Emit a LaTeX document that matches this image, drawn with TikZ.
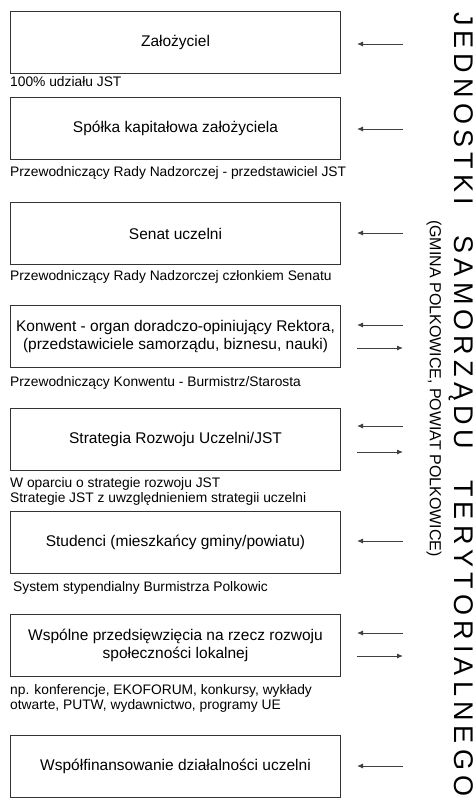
\documentclass[tikz,border=0pt]{standalone}
\usepackage{fontspec}
\setmainfont{Liberation Sans}
\usetikzlibrary{arrows.meta}
\definecolor{boxgray}{HTML}{333333}
\definecolor{arrgray}{HTML}{404040}
\newcommand\wgap{\hskip 0pt plus 6fill\relax}
\tikzset{
  box/.style={draw=boxgray, line width=1pt, minimum width=330pt, minimum height=62pt,
    inner sep=0pt, align=center, anchor=north west, font=\fontsize{15.5}{17.5}\selectfont},
  lab/.style={anchor=north west, inner sep=0pt, align=left, font=\fontsize{13.8}{15}\selectfont},
  arr/.style={line width=0.9pt, draw=arrgray, -{Latex[length=6pt,width=5pt]}},
}
\begin{document}
\begin{tikzpicture}[x=1pt,y=-1pt]
\useasboundingbox (0,0) rectangle (476,801);
% boxes
\node[box] (b1) at (10,11)  {Założyciel};
\node[box] (b2) at (10,97)  {Spółka kapitałowa założyciela};
\node[box] (b3) at (10,202) {Senat uczelni};
\node[box] (b4) at (10,305) {Konwent - organ doradczo-opiniujący Rektora,\\(przedstawiciele samorządu, biznesu, nauki)};
\node[box] (b5) at (10,408) {Strategia Rozwoju Uczelni/JST};
\node[box] (b6) at (10,511) {Studenci (mieszkańcy gminy/powiatu)};
\node[box] (b7) at (10,614) {Wspólne przedsięwzięcia na rzecz rozwoju\\społeczności lokalnej};
\node[box] (b8) at (10,735) {Współfinansowanie działalności uczelni};
% labels
\node[lab] (l1) at (10,76)  {100\% udziału JST};
\node[lab] (l2) at (10,166) {Przewodniczący Rady Nadzorczej - przedstawiciel JST};
\node[lab] (l3) at (10,270) {Przewodniczący Rady Nadzorczej członkiem Senatu};
\node[lab] (l4) at (10,376) {Przewodniczący Konwentu - Burmistrz/Starosta};
\node[lab] (l5) at (10,477) {W oparciu o strategie rozwoju JST\\Strategie JST z uwzględnieniem strategii uczelni};
\node[lab] (l6) at (13,581) {System stypendialny Burmistrza Polkowic};
\node[lab] (l7) at (10,684) {np. konferencje, EKOFORUM, konkursy, wykłady\\otwarte, PUTW, wydawnictwo, programy UE};
% arrow ends
\coordinate (r1) at (403,44);  \coordinate (p1) at (357,44);
\coordinate (r2) at (403,129); \coordinate (p2) at (357,129);
\coordinate (r3) at (403,233); \coordinate (p3) at (357,233);
\coordinate (r4a) at (403,325); \coordinate (p4a) at (357,325);
\coordinate (r4b) at (403,348); \coordinate (p4b) at (357,348);
\coordinate (r5a) at (403,426); \coordinate (p5a) at (357,426);
\coordinate (r5b) at (403,452); \coordinate (p5b) at (357,452);
\coordinate (r6) at (403,541); \coordinate (p6) at (357,541);
\coordinate (r7a) at (403,633); \coordinate (p7a) at (357,633);
\coordinate (r7b) at (403,656); \coordinate (p7b) at (357,656);
\coordinate (r8) at (403,766); \coordinate (p8) at (357,766);
\draw[arr] (r1) -- (p1);
\draw[arr] (r2) -- (p2);
\draw[arr] (r3) -- (p3);
\draw[arr] (r4a) -- (p4a);
\draw[arr] (p4b) -- (r4b);
\draw[arr] (r5a) -- (p5a);
\draw[arr] (p5b) -- (r5b);
\draw[arr] (r6) -- (p6);
\draw[arr] (r7a) -- (p7a);
\draw[arr] (p7b) -- (r7b);
\draw[arr] (r8) -- (p8);
% vertical titles
\node[rotate=-90, anchor=west, inner sep=0pt, font=\fontsize{27}{27}\selectfont] (jst) at (461.5,12)
  {\makebox[784pt][s]{J\hfill E\hfill D\hfill N\hfill O\hfill S\hfill T\hfill K\hfill I\wgap
   S\hfill A\hfill M\hfill O\hfill R\hfill Z\hfill Ą\hfill D\hfill U\wgap
   T\hfill E\hfill R\hfill Y\hfill T\hfill O\hfill R\hfill I\hfill A\hfill L\hfill N\hfill E\hfill G\hfill O}};
\node[rotate=-90, anchor=west, inner sep=0pt, font=\fontsize{16}{16}\selectfont] (gm) at (434,220)
  {(GMINA POLKOWICE, POWIAT POLKOWICE)};
\end{tikzpicture}
\end{document}
